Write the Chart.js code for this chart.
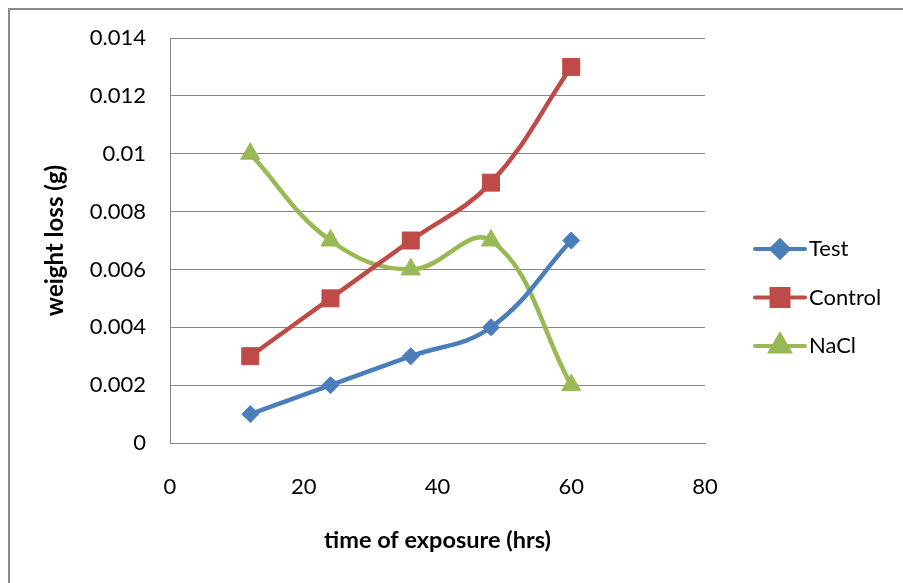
<!DOCTYPE html>
<html>
<head>
<meta charset="utf-8">
<script src="https://cdn.jsdelivr.net/npm/chart.js@4/dist/chart.umd.min.js"></script>
<style>
  html, body { margin: 0; padding: 0; background: #fff; }
  #wrap { width: 903px; height: 583px; position: relative; }
</style>
</head>
<body>
<div id="wrap"><canvas id="myChart" width="903" height="583"></canvas></div>
<script>
// data
const hours = [12, 24, 36, 48, 60];
const testLoss = [0.001, 0.002, 0.003, 0.004, 0.007];
const controlLoss = [0.003, 0.005, 0.007, 0.009, 0.013];
const naclLoss = [0.010, 0.007, 0.006, 0.007, 0.002];
const seriesNames = ["Test", "Control", "NaCl"];

const FONT = "Lato, 'Open Sans', sans-serif";

function points(vals) {
  return hours.map((h, i) => ({ x: h, y: vals[i] }));
}

// outer frame (only top and left are visible in the picture)
const framePlugin = {
  id: "frame",
  beforeDraw(chart) {
    const ctx = chart.ctx;
    ctx.save();
    ctx.fillStyle = "#fff";
    ctx.fillRect(0, 0, chart.width, chart.height);
    ctx.strokeStyle = "#8a8a8a";
    ctx.lineWidth = 2;
    ctx.beginPath();
    ctx.moveTo(9, chart.height);
    ctx.lineTo(9, 9);
    ctx.lineTo(chart.width, 9);
    ctx.stroke();
    ctx.restore();
  }
};

// excel-style legend: line with marker + text
const legendPlugin = {
  id: "sideLegend",
  afterDraw(chart) {
    const ctx = chart.ctx;
    ctx.save();
    chart.data.datasets.forEach((ds, i) => {
      const y = 249 + i * 48.5;
      ctx.strokeStyle = ds.borderColor;
      ctx.lineWidth = 4;
      ctx.lineCap = "round";
      ctx.beginPath();
      ctx.moveTo(755, y);
      ctx.lineTo(805, y);
      ctx.stroke();
      Chart.helpers.drawPoint(ctx, {
        pointStyle: ds.pointStyle,
        radius: ds.pointRadius,
        borderWidth: 1,
        rotation: 0
      }, 780, y);
      ctx.fillStyle = ds.pointBackgroundColor;
      ctx.fill();
      ctx.fillStyle = "#000";
      ctx.font = "22px " + FONT;
      ctx.textBaseline = "middle";
      ctx.textAlign = "left";
      ctx.fillText(ds.label, 809, y);
    });
    ctx.restore();
  }
};

const ctx = document.getElementById("myChart").getContext("2d");
new Chart(ctx, {
  type: "line",
  data: {
    datasets: [
      {
        label: seriesNames[0],
        data: points(testLoss),
        borderColor: "#4a7ebb",
        backgroundColor: "#4a7ebb",
        pointBackgroundColor: "#4a7ebb",
        pointBorderColor: "#4a7ebb",
        pointStyle: "rectRot",
        pointRadius: 8.5
      },
      {
        label: seriesNames[1],
        data: points(controlLoss),
        borderColor: "#be4b48",
        backgroundColor: "#be4b48",
        pointBackgroundColor: "#be4b48",
        pointBorderColor: "#be4b48",
        pointStyle: "rect",
        pointRadius: 12
      },
      {
        label: seriesNames[2],
        data: points(naclLoss),
        borderColor: "#98b954",
        backgroundColor: "#98b954",
        pointBackgroundColor: "#98b954",
        pointBorderColor: "#98b954",
        pointStyle: "triangle",
        pointRadius: 11
      }
    ]
  },
  options: {
    responsive: false,
    animation: false,
    datasets: {
      line: { borderWidth: 4.5, tension: 0.4, pointBorderWidth: 1, pointHoverRadius: 10 }
    },
    layout: { padding: { left: 0, top: 38, right: 198, bottom: 0 } },
    plugins: {
      legend: { display: false },
      tooltip: { enabled: false }
    },
    scales: {
      x: {
        type: "linear",
        min: 0,
        max: 80,
        afterFit(scale) { scale.height = 140; },
        ticks: { stepSize: 20, padding: 31, color: "#000", font: { family: FONT, size: 22 } },
        grid: { display: false, drawTicks: false },
        border: { display: true, color: "#868686", width: 1 },
        title: {
          display: true,
          text: "time of exposure (hrs)",
          color: "#000",
          font: { family: FONT, size: 23.5, weight: "bold" },
          padding: { top: 0, bottom: 28 }
        }
      },
      y: {
        min: 0,
        max: 0.014,
        afterFit(scale) { scale.width = 170; },
        ticks: {
          stepSize: 0.002,
          padding: 24,
          color: "#000",
          font: { family: FONT, size: 22 },
          callback: v => String(parseFloat(v.toFixed(3)))
        },
        grid: { color: "#868686", lineWidth: 1, drawTicks: false },
        border: { display: true, color: "#868686", width: 1 },
        title: {
          display: true,
          text: "weight loss (g)",
          color: "#000",
          font: { family: FONT, size: 24, weight: "bold" },
          padding: { top: 41, bottom: 0 }
        }
      }
    }
  },
  plugins: [framePlugin, legendPlugin]
});
</script>
</body>
</html>
